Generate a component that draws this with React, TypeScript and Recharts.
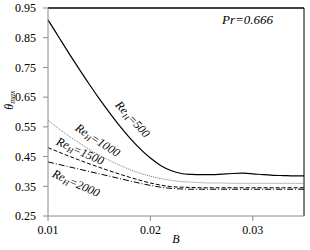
import React from 'react';
import { LineChart, Line, XAxis, YAxis, ReferenceLine, ReferenceDot } from 'recharts';

// B values along the x axis
const bValues = [
  0.010, 0.011, 0.012, 0.013, 0.014, 0.015, 0.016, 0.017, 0.018, 0.019, 0.020, 0.021, 0.022,
  0.023, 0.024, 0.025, 0.026, 0.027, 0.028, 0.029, 0.030, 0.031, 0.032, 0.033, 0.034, 0.035,
];

// theta_max for each Re_H
const re500 = [
  0.910, 0.855, 0.800, 0.747, 0.695, 0.645, 0.598, 0.553, 0.512, 0.476, 0.445, 0.420, 0.403,
  0.393, 0.390, 0.389, 0.389, 0.391, 0.393, 0.394, 0.392, 0.389, 0.387, 0.386, 0.385, 0.385,
];
const re1000 = [
  0.572, 0.545, 0.520, 0.497, 0.475, 0.455, 0.437, 0.421, 0.406, 0.394, 0.384, 0.376, 0.370,
  0.366, 0.364, 0.362, 0.361, 0.361, 0.360, 0.360, 0.360, 0.360, 0.360, 0.360, 0.360, 0.360,
];
const re1500 = [
  0.480, 0.466, 0.452, 0.439, 0.426, 0.414, 0.402, 0.391, 0.380, 0.370, 0.361, 0.354, 0.349,
  0.347, 0.346, 0.345, 0.345, 0.345, 0.345, 0.345, 0.345, 0.345, 0.345, 0.345, 0.345, 0.345,
];
const re2000 = [
  0.432, 0.424, 0.416, 0.408, 0.400, 0.392, 0.384, 0.376, 0.368, 0.360, 0.353, 0.347, 0.343,
  0.341, 0.340, 0.340, 0.340, 0.340, 0.340, 0.340, 0.340, 0.340, 0.340, 0.340, 0.340, 0.340,
];

const xTicks = [0.01, 0.02, 0.03];
const yTicks = [0.25, 0.35, 0.45, 0.55, 0.65, 0.75, 0.85, 0.95];

// curve labels: [Re value, B, theta, angle]
const curveLabels: [string, number, number, number][] = [
  ['500', 0.0182, 0.573, 47],
  ['1000', 0.0148, 0.502, 33],
  ['1500', 0.0131, 0.465, 24],
  ['2000', 0.0127, 0.357, 24],
];

const data = bValues.map((b, i) => ({
  b,
  re500: re500[i],
  re1000: re1000[i],
  re1500: re1500[i],
  re2000: re2000[i],
}));

const serif = '"Liberation Serif", "Times New Roman", serif';

const CurveLabel = ({ cx, cy, re, angle }: any) => (
  <text
    x={cx}
    y={cy}
    transform={`rotate(${angle} ${cx} ${cy})`}
    textAnchor="middle"
    dominantBaseline="middle"
    fontFamily={serif}
    fontStyle="italic"
    fontSize={12}
    fill="#000"
  >
    Re<tspan fontSize={8} dy={3}>H</tspan>
    <tspan dy={-3}>={re}</tspan>
  </text>
);

export default function App() {
  return (
    <div style={{ position: 'absolute', left: 0, top: 0, width: 310, height: 250, background: '#fff' }}>
      <LineChart width={310} height={250} data={data} margin={{ top: 8, right: 6, bottom: 0, left: 0 }}>
        <XAxis
          dataKey="b"
          type="number"
          domain={[0.01, 0.035]}
          ticks={xTicks}
          tickFormatter={(v: number) => v.toFixed(2)}
          height={34}
          tickSize={5}
          tickMargin={4}
          stroke="#8a8a8a"
          tick={{ fill: '#000', fontFamily: serif, fontSize: 12 }}
          label={{
            content: ({ viewBox }: any) => (
              <text
                x={viewBox.x + viewBox.width / 2}
                y={viewBox.y + 27}
                textAnchor="middle"
                fontFamily={serif}
                fontStyle="italic"
                fontSize={12}
                fill="#000"
              >
                B
              </text>
            ),
          }}
        />
        <YAxis
          type="number"
          domain={[0.25, 0.95]}
          ticks={yTicks}
          tickFormatter={(v: number) => v.toFixed(2)}
          width={48}
          tickSize={5}
          tickMargin={7}
          stroke="#8a8a8a"
          tick={{ fill: '#000', fontFamily: serif, fontSize: 12 }}
          label={{
            content: ({ viewBox }: any) => {
              const cx = 10;
              const cy = viewBox.y + 92;
              return (
                <text
                  x={cx}
                  y={cy}
                  transform={`rotate(-90 ${cx} ${cy})`}
                  textAnchor="middle"
                  dominantBaseline="middle"
                  fontFamily={serif}
                  fontStyle="italic"
                  fontSize={12}
                  fill="#000"
                >
                  θ<tspan fontSize={8} dy={3}>max</tspan>
                </text>
              );
            },
          }}
        />
        <ReferenceLine y={0.95} stroke="#000" strokeWidth={1.5} />
        <ReferenceLine x={0.035} stroke="#000" strokeWidth={1} />
        <Line type="monotone" dataKey="re500" stroke="#000" strokeWidth={1.2} dot={false} isAnimationActive={false} />
        <Line type="monotone" dataKey="re1000" stroke="#777" strokeWidth={1} strokeDasharray="1 1" dot={false} isAnimationActive={false} />
        <Line type="monotone" dataKey="re1500" stroke="#000" strokeWidth={1} strokeDasharray="4 2" dot={false} isAnimationActive={false} />
        <Line type="monotone" dataKey="re2000" stroke="#000" strokeWidth={1} strokeDasharray="6 2 1 2" dot={false} isAnimationActive={false} />
        {curveLabels.map(([re, b, t, angle]) => (
          <ReferenceDot
            key={re}
            x={b}
            y={t}
            r={0}
            shape={(p: any) => <CurveLabel cx={p.cx} cy={p.cy} re={re} angle={angle} />}
          />
        ))}
      </LineChart>
      <div
        style={{
          position: 'absolute',
          left: 222,
          top: 12,
          fontFamily: serif,
          fontStyle: 'italic',
          fontSize: 13,
          lineHeight: '16px',
          color: '#000',
        }}
      >
        Pr=0.666
      </div>
    </div>
  );
}
